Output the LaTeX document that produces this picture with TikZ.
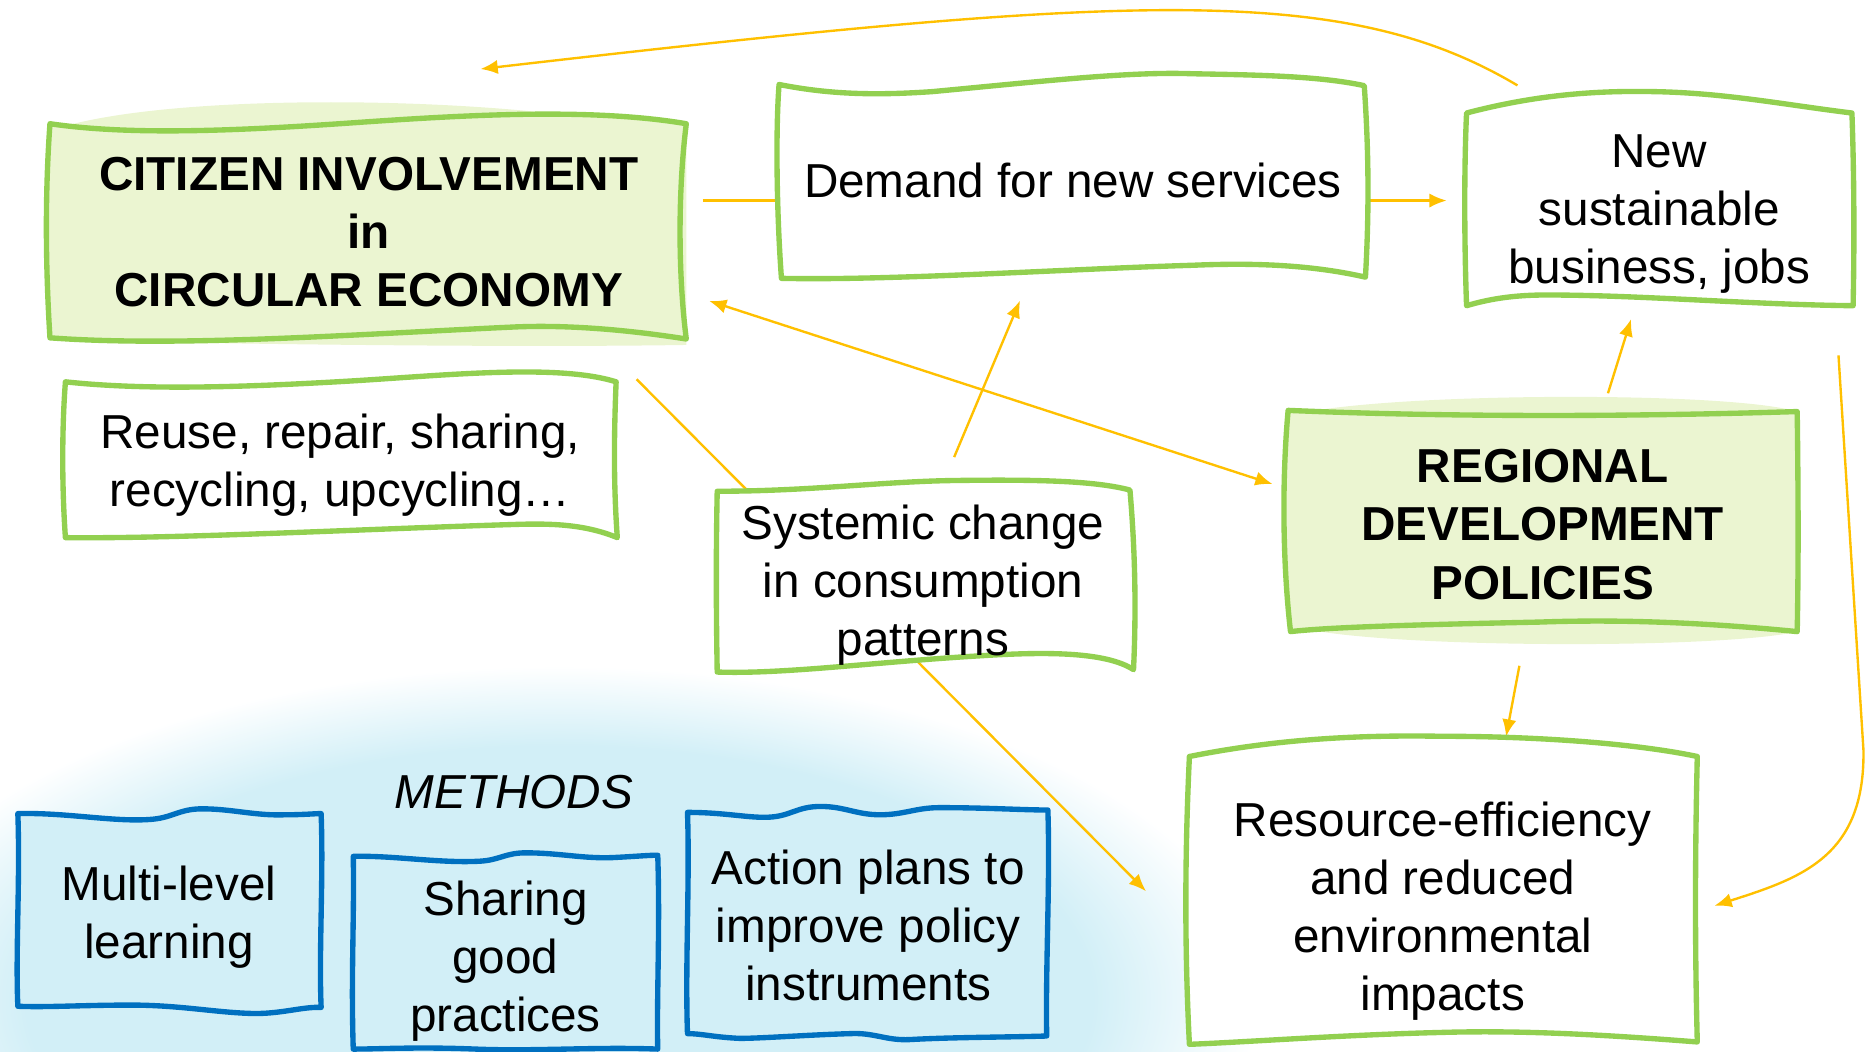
\documentclass[tikz,border=0pt]{standalone}
\usepackage{fontspec}
\setmainfont{Liberation Sans}
\usetikzlibrary{arrows.meta,backgrounds}

\definecolor{ceGreen}{RGB}{146,208,80}
\definecolor{ceFill}{RGB}{235,245,209}
\definecolor{mBlue}{RGB}{0,112,192}
\definecolor{mFill}{RGB}{210,239,247}
\definecolor{linkYellow}{RGB}{255,192,0}

\pgfdeclareradialshading{methodsglow}{\pgfpoint{0bp}{0bp}}{color(0bp)=(mFill); color(19bp)=(mFill); color(25bp)=(white); color(50bp)=(white)}

\tikzset{
    txt/.style={align=center, inner sep=0pt, font=\fontsize{11.4}{13.9}\selectfont},
    boldtxt/.style={txt, font=\fontsize{11.4}{13.9}\selectfont\bfseries},
    cebox/.style={draw=ceGreen, fill=white, line width=0.45mm, line join=round},
    mbox/.style={draw=mBlue, fill=mFill, line width=0.45mm, line join=round},
    link/.style={draw=linkYellow, line width=0.2mm},
    linkarrow/.style={link, -{Latex[length=1.45mm, width=1.2mm]}},
    linkboth/.style={link, {Latex[length=1.45mm, width=1.2mm]}-{Latex[length=1.45mm, width=1.2mm]}}
}

\begin{document}
\begin{tikzpicture}[x=0.1mm, y=-0.1mm]
    \useasboundingbox (0,0) rectangle (1568,884);

    % Text of the boxes
    \node[boldtxt, minimum width=53.5mm, minimum height=18.5mm] (cit) at (310,195) {CITIZEN INVOLVEMENT\\in\\CIRCULAR ECONOMY};
    \node[txt, minimum width=49.5mm, minimum height=16.5mm] (dem) at (902,152) {Demand for new services};
    \node[txt, minimum width=32.5mm, minimum height=17.5mm] (newb) at (1395,180) {New\\sustainable\\business, jobs};
    \node[boldtxt, minimum width=43mm, minimum height=18.5mm] (reg) at (1297,441) {REGIONAL\\DEVELOPMENT\\POLICIES};
    \node[txt, minimum width=46.5mm, minimum height=13.5mm] (reuse) at (286,391) {Reuse, repair, sharing,\\recycling, upcycling…};
    \node[txt, minimum width=35mm, minimum height=15.5mm] (sys) at (776,492) {Systemic change\\in consumption\\patterns};
    \node[txt, minimum width=42.7mm, minimum height=29mm] (res) at (1213,766) {Resource-efficiency\\and reduced\\environmental\\impacts};

    % Methods
    \node[txt, font=\fontsize{11.4}{13.9}\selectfont\itshape] (methods) at (432,666) {METHODS};
    \node[txt, minimum width=25.5mm, minimum height=16.5mm] (ml) at (142,771) {Multi-level\\learning};
    \node[txt, minimum width=25.6mm, minimum height=16mm] (sg) at (425,808) {Sharing\\good\\practices};
    \node[txt, minimum width=30.4mm, minimum height=19mm] (ap) at (730,778) {Action plans to\\improve policy\\instruments};

    \coordinate (loopEnd) at (404,58);

    \begin{scope}[on background layer]
        % Soft glows
        \shade[shading=methodsglow] (470,840) ellipse [x radius=590, y radius=280];
        \fill[ceFill] (42,110) .. controls (120,82) and (330,80) .. (470,96) -- (577,104) -- (577,290) .. controls (450,292) and (250,290) .. (100,287) -- (42,286) -- cycle;
        \fill[ceFill] (1083,350) .. controls (1150,330) and (1450,328) .. (1511,346) -- (1511,531) .. controls (1450,545) and (1200,545) .. (1110,531) -- cycle;

        % Connectors
        \draw[linkarrow] (newb.north west) ++(44,-20) .. controls (1130,-15) and (950,-5) .. (loopEnd);
        \draw[linkarrow, shorten <=1.25mm, shorten >=1.55mm] (cit.east |- newb.176) -- (newb.176);
        \draw[linkboth, shorten <=1.9mm, shorten >=1.2mm] (cit.-11) -- (reg.172);
        \draw[linkarrow, shorten >=5mm] (reuse.north east) ++(16,-4) -- (res.185);
        \draw[linkarrow, shorten <=3.2mm, shorten >=1.9mm] (sys.80) -- (dem.-114);
        \draw[linkarrow, shorten <=1.8mm] (reg.62) -- (newb.-105);
        \draw[linkarrow, shorten <=2.6mm, shorten >=0.1mm] (reg.-99) -- (res.70);
        \draw[linkarrow, shorten >=1.5mm] (newb.south east) ++(-12.5,30.5) -- ++(21,332) .. controls (1568,720) and (1515,738) .. (res.east);

        % Green boxes
        \draw[cebox, fill=ceFill] (42,104) .. controls (110,114) and (200,110) .. (300,103) .. controls (400,96) and (500,91) .. (577,104) .. controls (570,160) and (570,230) .. (577,285) .. controls (520,276) and (470,273) .. (430,275) .. controls (300,281) and (150,292) .. (42,284) .. controls (38,220) and (38,160) .. cycle;
        \draw[cebox, fill=ceFill] (1083,345) .. controls (1200,350) and (1350,351) .. (1511,346) .. controls (1512,420) and (1512,480) .. (1511,531) .. controls (1420,522) and (1350,521) .. (1294,523) .. controls (1200,525) and (1120,527) .. (1085,531) .. controls (1078,470) and (1078,400) .. cycle;
        \draw[cebox] (655,71) .. controls (700,80) and (740,80) .. (784,77) .. controls (880,68) and (950,60) .. (1003,62) .. controls (1060,63) and (1110,64) .. (1147,72) .. controls (1151,130) and (1151,180) .. (1148,233) .. controls (1100,222) and (1050,221) .. (1003,223) .. controls (900,226) and (750,236) .. (657,234) .. controls (653,180) and (652,110) .. cycle;
        \draw[cebox] (1233,95) .. controls (1290,80) and (1340,76) .. (1390,77) .. controls (1450,78) and (1500,88) .. (1557,95) .. controls (1559,150) and (1559,210) .. (1558,257) .. controls (1470,256) and (1380,248) .. (1300,248) .. controls (1270,248) and (1250,252) .. (1233,257) .. controls (1231,200) and (1231,140) .. cycle;
        \draw[cebox] (55,321) .. controls (120,328) and (200,326) .. (300,320) .. controls (380,315) and (470,306) .. (518,321) .. controls (516,370) and (516,410) .. (519,452) .. controls (490,440) and (460,440) .. (430,441) .. controls (300,445) and (150,453) .. (55,452) .. controls (52,410) and (52,360) .. cycle;
        \draw[cebox] (603,413) .. controls (680,413) and (740,405) .. (800,404) .. controls (870,403) and (920,404) .. (950,412) .. controls (955,470) and (955,520) .. (953,563) .. controls (930,548) and (880,548) .. (830,551) .. controls (740,556) and (660,567) .. (603,565) .. controls (602,510) and (602,460) .. cycle;
        \draw[cebox] (1000,636) .. controls (1080,620) and (1150,618) .. (1212,619) .. controls (1300,619) and (1380,626) .. (1427,636) .. controls (1425,720) and (1425,800) .. (1427,876) .. controls (1350,870) and (1280,866) .. (1212,868) .. controls (1130,870) and (1050,876) .. (1000,878) .. controls (996,800) and (996,720) .. cycle;

        % Blue boxes
        \draw[mbox] (15,684) .. controls (55,683) and (95,691) .. (125,689) .. controls (145,688) and (150,680) .. (170,680) .. controls (195,680) and (215,686) .. (240,685) .. controls (255,685) and (265,684) .. (270,684) .. controls (272,740) and (268,800) .. (270,847) .. controls (255,846) and (235,853) .. (210,852) .. controls (180,851) and (150,845) .. (110,845) .. controls (70,845) and (40,847) .. (15,846) .. controls (13,800) and (17,740) .. cycle;
        \draw[mbox] (297,720) .. controls (330,719) and (370,726) .. (404,724) .. controls (420,723) and (425,717) .. (442,717) .. controls (470,717) and (490,722) .. (515,721) .. controls (535,720) and (545,719) .. (553,719) .. controls (555,780) and (552,840) .. (553,882) .. controls (500,880) and (450,884) .. (400,882) .. controls (350,880) and (320,882) .. (297,882) .. controls (295,820) and (298,770) .. cycle;
        \draw[mbox] (578,683) .. controls (610,683) and (630,688) .. (647,687) .. controls (665,686) and (670,678) .. (690,678) .. controls (710,678) and (720,685) .. (740,685) .. controls (760,685) and (770,679) .. (790,679) .. controls (830,679) and (860,681) .. (881,681) .. controls (883,740) and (879,810) .. (880,871) .. controls (850,872) and (800,872) .. (765,874) .. controls (745,875) and (735,868) .. (715,869) .. controls (680,870) and (640,873) .. (622,873) .. controls (600,872) and (590,869) .. (578,869) .. controls (576,810) and (580,740) .. cycle;
    \end{scope}
\end{tikzpicture}
\end{document}
